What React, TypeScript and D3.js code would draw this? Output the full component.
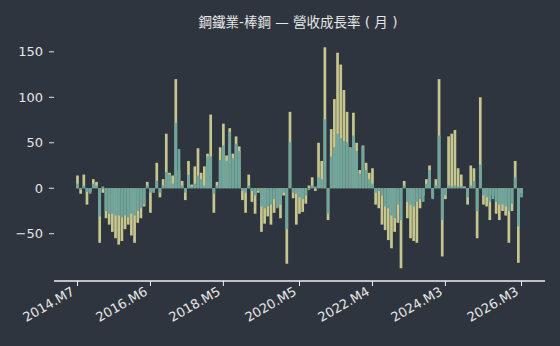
import React from 'react';
import * as d3 from 'd3';

// 2014.M7 .. 2026.M3, one bar per month
const startYear = 2014;
const startMonth = 7;
const monthCount = 141;
const months = d3.range(monthCount).map(i => {
  const m = startMonth - 1 + i;
  return `${startYear + Math.floor(m / 12)}.M${(m % 12) + 1}`;
});

// khaki series (drawn first)
const seriesA = [
  14, -6, 15, -18, -4, 10, 7, -60, -5, -33,
  -40, -48, -55, -62, -58, -45, -40, -52, -60, -38,
  -33, -20, 7, -27, -3, 28, -10, 10, 60, 17,
  14, 120, 20, 8, -13, 30, 4, 24, 44, 17,
  24, 38, 81, -27, 7, 45, 71, 36, 66, 38,
  57, 46, -13, -27, 15, -15, -28, -5, -48, -39,
  -31, -40, -27, -20, -33, -8, -83, 84, -11, -40,
  -28, -26, -17, 3, 12, -3, 50, 30, 155, -35,
  65, 98, 149, 136, 108, 84, 45, 83, 50, 20,
  47, 28, 17, 22, -18, -22, -40, -46, -57, -66,
  -48, -38, -88, 8, -33, -55, -58, -60, -22, -8,
  10, 25, -10, 10, 120, -75, -12, 57, 60, 64,
  22, 15, 2, -18, 25, 22, -55, 100, -18, -20,
  -35, -8, -28, -35, -25, -30, -60, -25, 30, -82,
  -5,
];

// teal series (drawn on top)
const seriesB = [
  5, -2, 3, -4, -6, 5, 3, -31, 2, -25,
  -28, -28, -30, -30, -32, -30, -32, -28, -30, -25,
  -22, -18, 3, -5, -5, 8, -5, 3, 18, 15,
  5, 72, 43, 3, -5, 15, 2, 5, 14, 10,
  3, 35, 35, -6, 3, 31, 47, 30, 62, 33,
  49, 41, -3, -5, 3, -3, -8, -3, -20, -22,
  -20, -18, -12, -22, -18, -5, -45, 51, -5, -6,
  -10, -12, -8, -2, 3, 2, 12, 10, 76, -28,
  35, 45, 60, 55, 52, 51, 44, 58, 41, 16,
  46, 20, 10, 5, -5, -3, -8, -20, -22, -30,
  -33, -18, -35, 3, -15, -18, -20, -15, -12, -15,
  5, 20, -12, 3, 58, -35, -8, 3, 2, 3,
  2, 2, 1, -10, 3, 8, -25, 26, -8, -10,
  -15, -12, -15, -18, -18, -20, -25, -17, 12, -42,
  -10,
];

const tickLabels = ['2014.M7', '2016.M6', '2018.M5', '2020.M5', '2022.M4', '2024.M3', '2026.M3'];
const yTicks = [-50, 0, 50, 100, 150];

const W = 560;
const H = 346;
const bg = '#2e353f';
const khaki = '#c6c78e';
const teal = '#6da59f';
const fg = '#e6e6e6';

export default function App() {
  const x = d3.scaleLinear().domain([-7.4, monthCount - 1 + 7.4]).range([54, 545]);
  const y = d3.scaleLinear().domain([-102, 163]).range([281, 40]);
  const bw = 2.7;
  const fmt = (v: number) => (v < 0 ? '\u2212' + Math.abs(v) : String(v));

  const bar = (v: number, i: number, color: string, key: string) => (
    <rect
      key={key}
      x={x(i) - bw / 2}
      width={bw}
      y={Math.min(y(v), y(0))}
      height={Math.abs(y(v) - y(0))}
      fill={color}
    />
  );

  return (
    <svg width={W} height={H} style={{ position: 'absolute', left: 0, top: 0 }}
      fontFamily="'DejaVu Sans', sans-serif">
      <rect width={W} height={H} fill={bg} />
      <text x={298} y={27} textAnchor="middle" fill={fg} fontSize={13.5}
        fontFamily="'DejaVu Sans', 'Noto Sans CJK TC', sans-serif">
        鋼鐵業-棒鋼 — 營收成長率 ( 月 )
      </text>

      <g>{seriesA.map((v, i) => bar(v, i, khaki, 'a' + i))}</g>
      <g>{seriesB.map((v, i) => bar(v, i, teal, 'b' + i))}</g>

      {/* y axis: tick marks and labels only */}
      {yTicks.map(t => (
        <g key={t} transform={`translate(0,${y(t)})`}>
          <line x1={49} x2={54} stroke={fg} strokeWidth={1} />
          <text x={43} dy="0.35em" textAnchor="end" fill={fg} fontSize={13}>{fmt(t)}</text>
        </g>
      ))}

      {/* x axis */}
      <line x1={54} x2={545} y1={281} y2={281} stroke="#f0f0f0" strokeWidth={1.4} />
      {tickLabels.map(lab => {
        const xi = x(months.indexOf(lab));
        return (
          <g key={lab} transform={`translate(${xi},281)`}>
            <line y1={0} y2={5} stroke="#f0f0f0" strokeWidth={1} />
            <text transform="translate(-2,13) rotate(-30)" textAnchor="end" fill={fg} fontSize={13}>{lab}</text>
          </g>
        );
      })}
    </svg>
  );
}
